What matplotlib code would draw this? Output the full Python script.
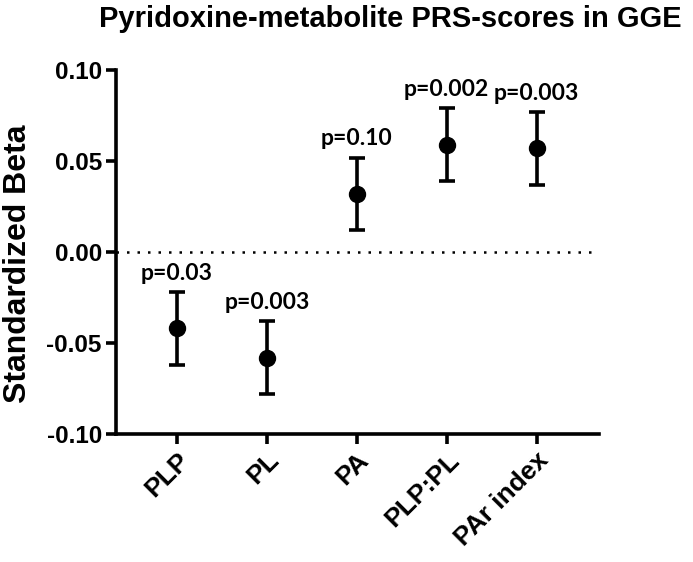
import numpy as np
import matplotlib.pyplot as plt

# values
metabolites = ['PLP', 'PL', 'PA', 'PLP:PL', 'PAr index']
beta = [-0.042, -0.058, 0.032, 0.059, 0.057]
err = [0.020, 0.020, 0.020, 0.020, 0.020]
p_labels = ['p=0.03', 'p=0.003', 'p=0.10', 'p=0.002', 'p=0.003']

plt.rcParams['font.family'] = ['Liberation Sans', 'DejaVu Sans']

fig = plt.figure(figsize=(6.93, 5.62), dpi=100)
ax = fig.add_axes([0.167, 0.228, 0.697, 0.647])

x = np.arange(len(metabolites))
ax.axhline(0, color='black', lw=1.8, ls=(0, (1, 3.2)), zorder=1)
ax.errorbar(x, beta, yerr=err, fmt='o', color='black', ms=11.5,
            elinewidth=2.6, capsize=6, capthick=2.6, zorder=3)

for xi, b, e, lab in zip(x, beta, err, p_labels):
    ax.annotate(lab, (xi, b + e), xytext=(0, 6), textcoords='offset points',
                ha='center', va='bottom', fontsize=16.5, fontweight='bold',
                family=['Lato', 'DejaVu Sans'])

ax.set_xlim(-0.68, 4.69)
ax.set_ylim(-0.10, 0.10)
ax.set_yticks([-0.10, -0.05, 0.00, 0.05, 0.10])
ax.set_yticklabels(['-0.10', '-0.05', '0.00', '0.05', '0.10'],
                   fontsize=17.5, fontweight='bold')
ax.set_xticks(x)
ax.set_xticklabels(metabolites, rotation=45, ha='right', rotation_mode='anchor',
                   fontsize=19, fontweight='bold')
ax.set_ylabel('Standardized Beta', fontsize=23, fontweight='bold')
ax.yaxis.set_label_coords(-0.172, 0.467)

for s in ['top', 'right']:
    ax.spines[s].set_visible(False)
for s in ['left', 'bottom']:
    ax.spines[s].set_linewidth(2.6)
ax.tick_params(width=2.6, length=7, direction='out', pad=3)

fig.text(0.984, 0.966, 'Pyridoxine-metabolite PRS-scores in GGE', ha='right',
         va='center', fontsize=21, fontweight='bold')

fig.savefig('out.png', dpi=100)
